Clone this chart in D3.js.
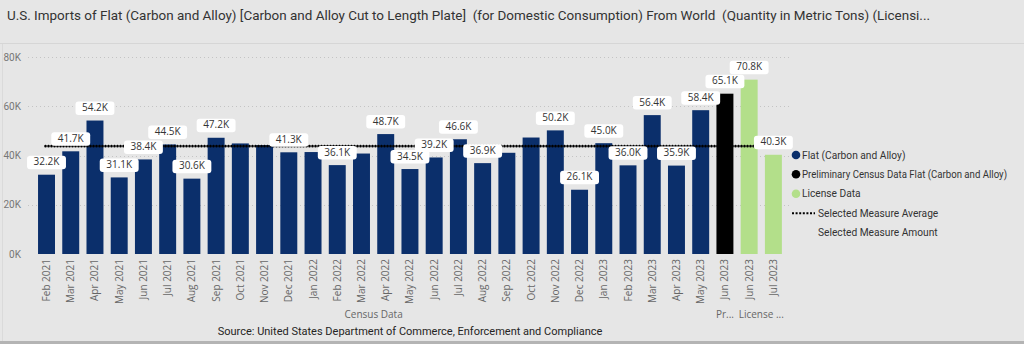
<!DOCTYPE html>
<html><head><meta charset="utf-8">
<script src="https://cdn.jsdelivr.net/npm/d3@7"></script>
<style>
html,body{margin:0;padding:0;background:#e6e6e6;}
svg{display:block;font-family:Roboto,"Open Sans",sans-serif;}
</style></head>
<body><svg id="c" width="1024" height="344"></svg>
<script>
const categories = ["Feb 2021","Mar 2021","Apr 2021","May 2021","Jun 2021","Jul 2021","Aug 2021","Sep 2021","Oct 2021","Nov 2021","Dec 2021","Jan 2022","Feb 2022","Mar 2022","Apr 2022","May 2022","Jun 2022","Jul 2022","Aug 2022","Sep 2022","Oct 2022","Nov 2022","Dec 2022","Jan 2023","Feb 2023","Mar 2023","Apr 2023","May 2023","Jun 2023","Jun 2023","Jul 2023"];
const values = [32.2,41.7,54.2,31.1,38.4,44.5,30.6,47.2,44.9,44.2,41.3,41.4,36.1,40.8,48.7,34.5,39.2,46.6,36.9,41.1,47.3,50.2,26.1,45.0,36.0,56.4,35.9,58.4,65.1,70.8,40.3];
const seriesOf = [0,0,0,0,0,0,0,0,0,0,0,0,0,0,0,0,0,0,0,0,0,0,0,0,0,0,0,0,1,2,2];
const showLabel = [1,1,1,1,1,1,1,1,0,0,1,0,1,0,1,1,1,1,1,0,0,1,1,1,1,1,1,1,1,1,1];
const seriesNames = ["Flat (Carbon and Alloy)","Preliminary Census Data Flat (Carbon and Alloy)","License Data"];
const seriesColors = ["#0b2f6b","#000000","#b3df8a"];
const groups = [{name:"Census Data", from:0, to:27},{name:"Pr...", from:28, to:28},{name:"License ...", from:29, to:30}];
const averageValue = 43.8;
const yTicks = [0,20,40,60,80];
const title = "U.S. Imports of Flat (Carbon and Alloy) [Carbon and Alloy Cut to Length Plate]  (for Domestic Consumption) From World  (Quantity in Metric Tons) (Licensi...";
const source = "Source: United States Department of Commerce, Enforcement and Compliance";

const svg = d3.select("#c");
// card
svg.append("rect").attr("x",0).attr("y",0).attr("width",1024).attr("height",344).attr("fill","#e6e6e6");
svg.append("line").attr("x1",0).attr("x2",1024).attr("y1",43.5).attr("y2",43.5).attr("stroke","#d6d6d6");
svg.append("line").attr("x1",2.5).attr("x2",2.5).attr("y1",44).attr("y2",341).attr("stroke","#dadada");
svg.append("rect").attr("x",0).attr("y",341).attr("width",1024).attr("height",3).attr("fill","#b4b4b4");

svg.append("text").attr("x",7).attr("y",20).attr("font-size",13).attr("fill","#333")
  .attr("textLength",923).attr("lengthAdjust","spacingAndGlyphs")
  .style("white-space","pre").text(title);

const idx = d3.range(categories.length);
const x = d3.scaleBand().domain(idx).range([34.4, 785.5]).paddingInner(0.3).paddingOuter(0.15);
const y = d3.scaleLinear().domain([0,80]).range([254,57]);

// grid
svg.append("g").selectAll("line").data(yTicks.filter(d=>d>0)).join("line")
  .attr("x1",28).attr("x2",792).attr("y1",d=>Math.round(y(d))+0.5).attr("y2",d=>Math.round(y(d))+0.5)
  .attr("stroke","#c4c4c4").attr("stroke-dasharray","1,3");

// y axis
const yAxis = d3.axisLeft(y).tickValues(yTicks).tickFormat(d=>d+"K").tickSize(0).tickPadding(0);
const yg = svg.append("g").attr("transform","translate(21,0)").call(yAxis);
yg.select(".domain").remove();
yg.selectAll("text").attr("font-size",10).attr("fill","#777").attr("font-family","Roboto,sans-serif");

// bars
svg.append("g").selectAll("rect").data(idx).join("rect")
  .attr("x",i=>x(i)).attr("width",x.bandwidth())
  .attr("y",i=>y(values[i])).attr("height",i=>y(0)-y(values[i]))
  .attr("fill",i=>seriesColors[seriesOf[i]]);

// average line
svg.append("line").attr("x1",x(0)+x.bandwidth()/2-1).attr("x2",x(30)+x.bandwidth()/2)
  .attr("y1",y(averageValue)).attr("y2",y(averageValue))
  .attr("stroke","#000").attr("stroke-width",2.6).attr("stroke-linecap","round").attr("stroke-dasharray","0,3");

// labels
const lg = svg.append("g");
idx.filter(i=>showLabel[i]).forEach(i=>{
  const cx = x(i)+x.bandwidth()/2;
  const top = y(values[i]);
  const t = values[i].toFixed(1)+"K";
  const g = lg.append("g");
  const txt = g.append("text").attr("x",cx).attr("y",top-9.5).attr("text-anchor","middle")
    .attr("font-size",10).attr("fill","#333").attr("font-family","'Open Sans',sans-serif").text(t);
  const w = txt.node().getComputedTextLength()+13;
  g.insert("rect","text").attr("x",cx-w/2).attr("y",top-19).attr("width",w).attr("height",13.5).attr("rx",3).attr("fill","#fff");
});

// x labels
const xAxis = d3.axisBottom(x).tickFormat(i=>categories[i]).tickSize(0).tickPadding(0);
const xg = svg.append("g").attr("transform","translate(0,259)").call(xAxis);
xg.select(".domain").remove();
xg.selectAll("text").attr("transform","rotate(-90)").attr("text-anchor","end")
  .attr("x",0).attr("y",0).attr("dy","0.35em").attr("font-size",10).attr("fill","#666")
  .attr("font-family","'Open Sans',sans-serif");

// group labels
svg.append("g").selectAll("text").data(groups).join("text")
  .attr("x",g=>(x(g.from)+x(g.to)+x.bandwidth())/2).attr("y",318).attr("text-anchor","middle")
  .attr("font-size",10).attr("fill","#666").attr("font-family","'Open Sans',sans-serif").text(g=>g.name);

svg.append("text").attr("x",410).attr("y",335).attr("text-anchor","middle").attr("font-size",11)
  .attr("fill","#252423").text(source);

// legend
const leg = svg.append("g");
const rows = [155,174.3,193.7,213.3,232.7];
const legFont = "Roboto,sans-serif";
seriesNames.forEach((n,k)=>{
  leg.append("circle").attr("cx",796).attr("cy",rows[k]).attr("r",4.3).attr("fill",seriesColors[k]);
  const t = leg.append("text").attr("x",802).attr("y",rows[k]).attr("dy","0.35em").attr("font-size",10.2)
    .attr("fill","#333").attr("font-family",legFont).text(n);
  if (t.node().getComputedTextLength() > 205) t.attr("textLength",205).attr("lengthAdjust","spacingAndGlyphs");
});
leg.append("line").attr("x1",792).attr("x2",815).attr("y1",rows[3]).attr("y2",rows[3])
  .attr("stroke","#000").attr("stroke-width",2).attr("stroke-dasharray","2,1.6");
leg.append("text").attr("x",818).attr("y",rows[3]).attr("dy","0.35em").attr("font-size",10.2)
  .attr("fill","#333").attr("font-family",legFont).text("Selected Measure Average");
leg.append("text").attr("x",818).attr("y",rows[4]).attr("dy","0.35em").attr("font-size",10.2)
  .attr("fill","#333").attr("font-family",legFont).text("Selected Measure Amount");
</script></body></html>
